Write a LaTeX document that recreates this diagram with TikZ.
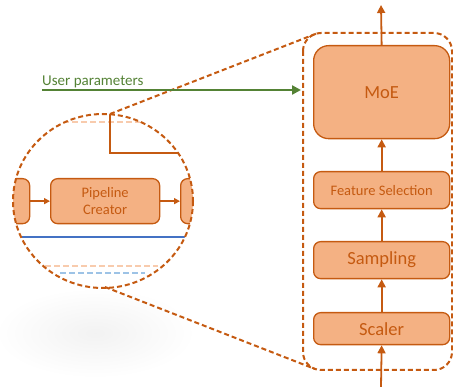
\documentclass[tikz,border=0pt]{standalone}
\usepackage{fontspec}
\setmainfont{Carlito}
\usetikzlibrary{arrows.meta,shapes.geometric}
\definecolor{boxfill}{HTML}{F4B183}
\definecolor{rust}{HTML}{C55A11}
\definecolor{paleorange}{HTML}{F8CBAD}
\definecolor{paleblue}{HTML}{9DC3E6}
\definecolor{lineblue}{HTML}{4472C4}
\definecolor{paramgreen}{HTML}{548235}

\begin{document}
\begin{tikzpicture}[x=1pt,y=-1pt,
  stage/.style={draw=rust, fill=boxfill, line width=1.3pt, rounded corners=7pt,
    text=rust, inner sep=0pt, anchor=north west, align=center},
  flow/.style={draw=rust, line width=1.8pt, -{Triangle[length=8pt,width=8pt]}},
  smallflow/.style={draw=rust, line width=1.4pt, -{Triangle[length=6pt,width=6pt]}},
  zoomline/.style={draw=rust, line width=2pt, dash pattern=on 5pt off 3pt},
  big/.style={font=\fontsize{18.5}{20}\selectfont},
  mid/.style={font=\fontsize{14.5}{17}\selectfont},
]
\useasboundingbox (0,0) rectangle (453,387);

% soft shadow under the lens
\shade[inner color=gray!10, outer color=white] (95,333) ellipse [x radius=100, y radius=45];

% processing chain
\node[stage, big, rounded corners=15pt, minimum width=136pt, minimum height=93pt] (moe) at (313,45) {MoE};
\node[stage, mid, minimum width=136pt, minimum height=37pt] (fs) at (313,171) {Feature Selection};
\node[stage, big, minimum width=136pt, minimum height=37pt] (samp) at (313,241) {Sampling};
\node[stage, big, minimum width=136pt, minimum height=32pt] (scaler) at (313,312) {Scaler};

\coordinate (in) at (381,387);
\coordinate (out) at (381,5);
\draw[flow] (in) -- (scaler.south);
\draw[flow] (scaler.north) -- (samp.south);
\draw[flow] (samp.north) -- (fs.south);
\draw[flow] (fs.north) -- (moe.south);
\draw[flow] (moe.north) -- (out);

% zoomed-in frame and its guide lines
\draw[zoomline, rounded corners=18pt] (303,33) rectangle (452,370);
\coordinate (lenstop) at (110,114);
\coordinate (lensbot) at (105,287);
\coordinate (frametop) at (318,33);
\coordinate (framebot) at (315,369);
\draw[zoomline] (lenstop) -- (frametop);
\draw[zoomline] (lensbot) -- (framebot);

% user parameters
\coordinate (upstart) at (42,90);
\coordinate (upend) at (301,90);
\draw[paramgreen, line width=2.8pt, -{Triangle[length=9pt,width=9pt]}] (upstart) -- (upend);
\node[anchor=base west, inner sep=0pt, text=paramgreen, font=\fontsize{15}{17}\selectfont] (uplabel) at (42,86) {User parameters};

% contents of the lens
\begin{scope}
  \clip (103,201) ellipse [x radius=90, y radius=87];
  \draw[paleorange, line width=2pt, dash pattern=on 6pt off 3pt] (0,122) -- (200,122);
  \draw[rust, line width=1.4pt] (lenstop) -- (110,153) -- (200,153);
  \node[stage, minimum width=49pt, minimum height=45pt] (lb) at (-20,178) {};
  \node[stage, mid, minimum width=109pt, minimum height=45pt] (pc) at (50,178) {Pipeline\\Creator};
  \node[stage, minimum width=50pt, minimum height=45pt] (rb) at (180,178) {};
  \draw[smallflow] (lb.east) -- (pc.west);
  \draw[smallflow] (pc.east) -- (rb.west);
  \draw[lineblue, line width=1.6pt] (0,237) -- (200,237);
  \draw[paleorange, line width=1.8pt, dash pattern=on 6pt off 3pt] (45,266) -- (158,266);
  \draw[paleblue, line width=1.8pt, dash pattern=on 6pt off 3pt] (60,273) -- (145,273);
\end{scope}
\node[ellipse, minimum width=180pt, minimum height=174pt, inner sep=0pt] (lens) at (103,201) {};
\draw[zoomline] (103,201) ellipse [x radius=90, y radius=87];
\end{tikzpicture}
\end{document}
